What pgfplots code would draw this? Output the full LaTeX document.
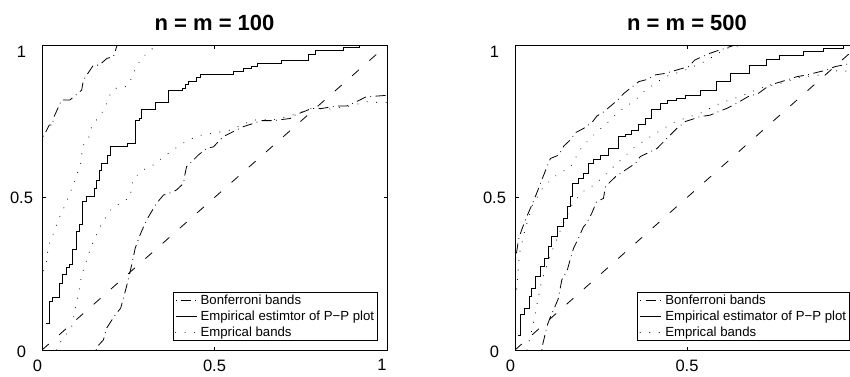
\documentclass[border=0pt]{standalone}
\usepackage{fontspec}
\setmainfont{Liberation Sans}
\usepackage{pgfplots}
\pgfplotsset{compat=1.18}

\pgfplotsset{
  pp/.style={
    scale only axis, width=345pt, height=305pt, anchor=south west,
    xmin=0, xmax=1, ymin=0, ymax=1,
    xtick={0,0.5,1}, ytick={0,0.5,1},
    xticklabels={{0\hspace*{9pt}},0.5,{1\hspace*{10pt}}},
    yticklabels={{\raisebox{-2pt}[\height][\depth]{0}},0.5,{\raisebox{-6.5pt}[\height][\depth]{1}}},
    tick align=inside, major tick length=3.5pt,
    tick style={black, line width=0.6pt},
    axis line style={black, line width=0.9pt},
    tick label style={font=\fontsize{16.5}{18}\selectfont},
    xticklabel style={yshift=-6pt},
    yticklabel style={anchor=center, xshift=-20.5pt},
    title style={at={(0.5,1)}, anchor=base, yshift=9pt, inner sep=0pt, font=\bfseries\fontsize{22}{24}\selectfont},
    legend cell align=left,
    legend style={draw=black, line width=0.8pt, fill=white,
      at={(1,0)}, anchor=south east, xshift=-9pt, yshift=9pt,
      font=\fontsize{13.2}{15}\selectfont, inner xsep=2pt, inner ysep=1.5pt,
      row sep=1.6pt, column sep=2pt, nodes={inner sep=1.5pt}},
    legend image code/.code={\draw[##1] (0pt,0pt) -- (21pt,0pt);},
  },
  bonf/.style={black, line width=0.8pt, line cap=butt, dash pattern=on 0.8pt off 4.5pt on 10pt off 4.5pt},
  emp/.style={black, line width=1pt, const plot},
  dots/.style={black, line width=1.1pt, line cap=round, dash pattern=on 0.01pt off 9.5pt},
  diag/.style={black, line width=0.8pt, dash pattern=on 9pt off 14pt},
}

\begin{document}
\begin{tikzpicture}
% ---------------- n = m = 100 ----------------
\begin{axis}[pp, at={(42pt,26pt)}, title={n = m = 100}]
\addplot[bonf] coordinates {
(0.157,0.0)(0.160,0.011)(0.178,0.033)(0.187,0.071)(0.212,0.115)(0.228,0.137)
(0.245,0.208)(0.260,0.279)(0.270,0.333)(0.284,0.377)(0.303,0.426)(0.332,0.481)
(0.352,0.508)(0.381,0.519)(0.390,0.525)(0.410,0.546)(0.414,0.574)(0.419,0.601)
(0.439,0.623)(0.453,0.639)(0.477,0.661)(0.497,0.666)(0.511,0.683)(0.526,0.700)
(0.574,0.727)(0.583,0.732)(0.637,0.752)(0.670,0.752)(0.719,0.759)(0.733,0.770)
(0.782,0.792)(0.811,0.792)(0.854,0.800)(0.883,0.800)(0.922,0.820)(0.941,0.831)
(0.951,0.831)(1.0,0.835)};
\addlegendentry{Bonferroni bands}
\addplot[emp] coordinates {
(0.012,0.087)(0.021,0.158)(0.031,0.172)(0.050,0.219)(0.060,0.246)(0.070,0.271)
(0.081,0.279)(0.089,0.328)(0.100,0.388)(0.110,0.410)(0.118,0.486)(0.130,0.503)
(0.151,0.530)(0.159,0.557)(0.168,0.590)(0.173,0.612)(0.190,0.639)(0.199,0.667)
(0.247,0.677)(0.270,0.751)(0.284,0.758)(0.289,0.787)(0.328,0.811)(0.366,0.850)
(0.408,0.858)(0.417,0.871)(0.424,0.880)(0.448,0.893)(0.460,0.904)(0.555,0.912)
(0.584,0.923)(0.607,0.930)(0.625,0.940)(0.695,0.949)(0.772,0.970)(0.794,0.981)
(0.873,0.992)(0.920,1.0)(1.0,1.0)};
\addlegendentry{Empirical estimtor of P−P plot}
\addplot[dots] coordinates {
(0.042,0.0)(0.047,0.016)(0.086,0.077)(0.105,0.180)(0.115,0.246)(0.144,0.344)
(0.173,0.415)(0.202,0.464)(0.226,0.481)(0.255,0.500)(0.260,0.536)(0.265,0.563)
(0.301,0.596)(0.323,0.607)(0.359,0.639)(0.386,0.661)(0.424,0.689)(0.468,0.707)
(0.492,0.710)(0.545,0.721)(0.612,0.754)(0.680,0.756)(0.738,0.774)(0.777,0.792)
(0.835,0.790)(0.893,0.800)(0.941,0.814)(0.985,0.811)(1.0,0.812)};
\addlegendentry{Emprical bands}
\addplot[bonf, forget plot] coordinates {
(0.003,0.700)(0.009,0.710)(0.021,0.738)(0.031,0.738)(0.033,0.760)(0.057,0.820)
(0.081,0.820)(0.115,0.852)(0.120,0.885)(0.149,0.934)(0.166,0.934)(0.188,0.956)
(0.207,0.962)(0.218,1.0)};
\addplot[dots, forget plot] coordinates {
(0.005,0.260)(0.012,0.279)(0.018,0.339)(0.033,0.382)(0.047,0.426)(0.067,0.475)
(0.081,0.514)(0.096,0.557)(0.112,0.610)(0.118,0.669)(0.134,0.691)(0.144,0.732)
(0.166,0.767)(0.178,0.784)(0.197,0.836)(0.212,0.858)(0.236,0.860)(0.253,0.871)
(0.260,0.896)(0.279,0.940)(0.299,0.967)(0.313,0.980)(0.330,1.0)};
\addplot[diag, forget plot] coordinates {(0,0)(1,1)};
\end{axis}
% ---------------- n = m = 500 ----------------
\begin{axis}[pp, at={(515pt,26pt)}, width=344pt, title={n = m = 500},
  xticklabels={{0\hspace*{9pt}},0.5,{}}]
\addplot[bonf] coordinates {
(0.078,0.0)(0.080,0.016)(0.087,0.049)(0.094,0.082)(0.104,0.111)(0.116,0.142)
(0.126,0.169)(0.136,0.230)(0.152,0.262)(0.160,0.295)(0.170,0.333)(0.184,0.366)
(0.199,0.404)(0.208,0.415)(0.223,0.448)(0.237,0.486)(0.257,0.497)(0.263,0.536)
(0.292,0.568)(0.306,0.579)(0.350,0.612)(0.364,0.634)(0.413,0.661)(0.432,0.683)
(0.471,0.727)(0.495,0.749)(0.538,0.765)(0.567,0.770)(0.615,0.792)(0.635,0.803)
(0.678,0.831)(0.707,0.841)(0.741,0.869)(0.775,0.880)(0.819,0.896)(0.848,0.902)
(0.906,0.918)(0.930,0.929)(1.0,0.945)};
\addlegendentry{Bonferroni bands}
\addplot[emp] coordinates {
(0.010,0.046)(0.016,0.115)(0.029,0.137)(0.042,0.175)(0.048,0.202)(0.061,0.240)
(0.073,0.273)(0.087,0.301)(0.097,0.339)(0.107,0.372)(0.123,0.404)(0.140,0.432)
(0.152,0.470)(0.160,0.503)(0.166,0.546)(0.185,0.563)(0.200,0.579)(0.214,0.612)
(0.229,0.623)(0.248,0.639)(0.272,0.661)(0.301,0.699)(0.321,0.705)(0.340,0.721)
(0.360,0.738)(0.379,0.760)(0.398,0.787)(0.422,0.809)(0.442,0.818)(0.470,0.825)
(0.495,0.836)(0.538,0.852)(0.586,0.880)(0.625,0.907)(0.683,0.934)(0.732,0.951)
(0.770,0.967)(0.838,0.978)(0.896,0.989)(0.955,0.997)(0.975,1.0)(1.0,1.0)};
\addlegendentry{Empirical estimator of P−P plot}
\addplot[dots] coordinates {
(0.035,0.0)(0.050,0.070)(0.078,0.230)(0.107,0.322)(0.136,0.404)(0.170,0.486)
(0.208,0.530)(0.230,0.540)(0.292,0.607)(0.350,0.667)(0.408,0.710)(0.466,0.749)
(0.538,0.776)(0.596,0.809)(0.654,0.831)(0.712,0.858)(0.770,0.874)(0.828,0.894)
(0.887,0.902)(0.945,0.918)(0.974,0.912)(1.0,0.920)};
\addlegendentry{Emprical bands}
\addplot[bonf, forget plot] coordinates {
(0.002,0.300)(0.010,0.361)(0.019,0.393)(0.034,0.437)(0.053,0.486)(0.063,0.514)
(0.076,0.552)(0.093,0.601)(0.103,0.628)(0.127,0.639)(0.142,0.669)(0.161,0.689)
(0.175,0.712)(0.200,0.727)(0.224,0.746)(0.238,0.767)(0.258,0.781)(0.299,0.820)
(0.316,0.841)(0.360,0.880)(0.384,0.887)(0.408,0.902)(0.437,0.907)(0.461,0.915)
(0.504,0.929)(0.523,0.951)(0.567,0.973)(0.596,0.984)(0.640,1.0)};
\addplot[dots, forget plot] coordinates {
(0.005,0.200)(0.013,0.317)(0.030,0.399)(0.051,0.475)(0.080,0.530)(0.110,0.565)
(0.130,0.580)(0.161,0.600)(0.195,0.667)(0.229,0.705)(0.272,0.749)(0.301,0.781)
(0.350,0.820)(0.379,0.852)(0.437,0.896)(0.500,0.920)(0.550,0.945)(0.615,0.989)
(0.660,1.0)};
\addplot[diag, forget plot] coordinates {(0,0)(1,1)};
\end{axis}
\pgfresetboundingbox
\useasboundingbox (0pt,0pt) rectangle (850pt,376pt);
\end{tikzpicture}
\end{document}
